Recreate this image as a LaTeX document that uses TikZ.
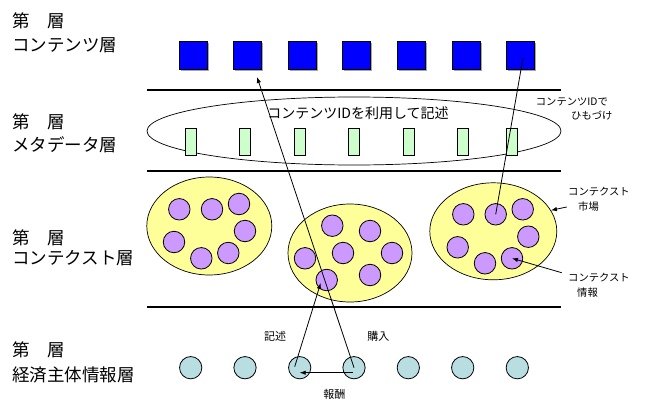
\documentclass[tikz,border=0pt]{standalone}
\usepackage{fontspec}
\setmainfont{Noto Sans CJK JP}
\usetikzlibrary{arrows.meta,shapes.geometric}
\definecolor{sqblue}{RGB}{0,0,255}
\definecolor{metagreen}{RGB}{204,255,204}
\definecolor{ctxyellow}{RGB}{255,255,153}
\definecolor{ctxpurple}{RGB}{204,153,255}
\definecolor{ecocyan}{RGB}{185,222,225}
\tikzset{
  sq/.style={draw=black, fill=sqblue, minimum size=28pt, inner sep=0pt, line width=0.8pt,
    preaction={fill=black!35, transform canvas={shift={(1.5pt,-1.5pt)}}}},
  meta/.style={draw=black, fill=metagreen, minimum width=11pt, minimum height=27pt, inner sep=0pt, line width=0.7pt},
  ctx/.style={ellipse, draw=black, fill=ctxyellow, inner sep=0pt, line width=0.7pt},
  pc/.style={circle, draw=black, fill=ctxpurple, minimum size=21.5pt, inner sep=0pt, line width=0.8pt},
  ec/.style={circle, draw=black, fill=ecocyan, minimum size=22.3pt, inner sep=0pt, line width=0.8pt},
  sep/.style={line width=1.3pt},
  conn/.style={line width=0.8pt},
  arr/.style={conn, -{Latex[length=6pt,width=4.5pt]}},
  big/.style={inner sep=0pt, font=\fontsize{17.5}{20}\selectfont, anchor=base west},
  mid/.style={inner sep=0pt, font=\fontsize{14}{16}\selectfont, anchor=base},
  small/.style={inner sep=0pt, font=\fontsize{10.3}{12}\selectfont, anchor=base west},
  lbl/.style={inner sep=0pt, font=\fontsize{11}{13}\selectfont, anchor=base}
}
\begin{document}
\begin{tikzpicture}[x=1pt,y=-1pt]
\useasboundingbox (0,0) rectangle (645,399);
% left labels
\node[big] (t1a) at (12,27.5) {第　層};
\node[big] (t1b) at (12,51.5) {コンテンツ層};
\node[big] (t2a) at (12,128) {第　層};
\node[big] (t2b) at (12,151) {メタデータ層};
\node[big] (t3a) at (12,244) {第　層};
\node[big] (t3b) at (12,264) {コンテクスト層};
\node[big] (t4a) at (12,356.5) {第　層};
\node[big] (t4b) at (12,381.5) {経済主体情報層};
% separators
\draw[sep] (147,90) -- (561,90);
\draw[sep] (147,171) -- (561,171);
\draw[sep] (147,307) -- (561,307);
% contents squares
\foreach \i/\x in {1/193,2/247.7,3/302,4/356.7,5/411,6/466,7/520}
  \node[sq] (sq\i) at (\x,55) {};
% metadata ellipse
\node[ellipse, draw=black, line width=0.7pt, minimum width=414pt, minimum height=68pt, inner sep=0pt] (ME) at (354,131) {};
\node[mid] (metatext) at (358,118.5) {コンテンツIDを利用して記述};
\foreach \i/\x in {1/190.5,2/245,3/300,4/354,5/408.5,6/463,7/512}
  \node[meta] (md\i) at (\x,141.5) {};
\node[small] (himo1) at (535.7,105.5) {コンテンツIDで};
\node[small] (himo2) at (571,119) {ひもづけ};
% context ellipses
\node[ctx, minimum width=125pt, minimum height=98pt] (E1) at (209.3,226) {};
\node[ctx, minimum width=124pt, minimum height=98pt] (E2) at (350,253) {};
\node[ctx, minimum width=127pt, minimum height=97pt] (E3) at (493.3,231.3) {};
\foreach \i/\x/\y in {1/179.3/209.3,2/212/209.3,3/239/204,4/245/231,5/174/242,6/201.3/258.3,7/228.3/253}
  \node[pc] (L\i) at (\x,\y) {};
\foreach \i/\x/\y in {1/332.3/225.7,2/370/231,3/305/258.3,4/343/253,5/392/253,6/326.7/280,7/370/275}
  \node[pc] (M\i) at (\x,\y) {};
\foreach \i/\x/\y in {1/463.3/214.3,2/495.7/214.3,3/522.7/209.3,4/528.3/236.7,5/457.7/247.3,6/485/263.3,7/512/258.3}
  \node[pc] (R\i) at (\x,\y) {};
\node[small] (ctxm1) at (568,195.5) {コンテクスト};
\node[small] (ctxm2) at (578,210.5) {市場};
\node[small] (ctxi1) at (568,281.3) {コンテクスト};
\node[small] (ctxi2) at (577,296.7) {情報};
\coordinate (cm) at (566.7,207);
\coordinate (ci) at (561.7,272.7);
\draw[arr] (cm) -- (E3.20);
\draw[arr] (ci) -- (R7.center);
% economic subjects
\foreach \i/\x in {1/190.7,2/245,3/299.7,4/354,5/408.3,6/462.7,7/517.3}
  \node[ec] (B\i) at (\x,367.7) {};
\node[lbl] (kijutsu) at (275,340) {記述};
\node[lbl] (kounyu) at (378.3,340) {購入};
\node[lbl] (houshu) at (334.3,398) {報酬};
% connectors
\coordinate (a1) at (257,77);
\draw[arr] (B4.center) -- (a1);
\draw[conn] ([shift={(3,3)}]sq7.center) -- (R2.center);
\draw[arr] ([shift={(-5,-1)}]B3.center) -- ([shift={(-6,3)}]M6.center);
\draw[arr] ([shift={(-1,5)}]B4.center) -- ([shift={(0,5)}]B3.center);
\end{tikzpicture}
\end{document}
